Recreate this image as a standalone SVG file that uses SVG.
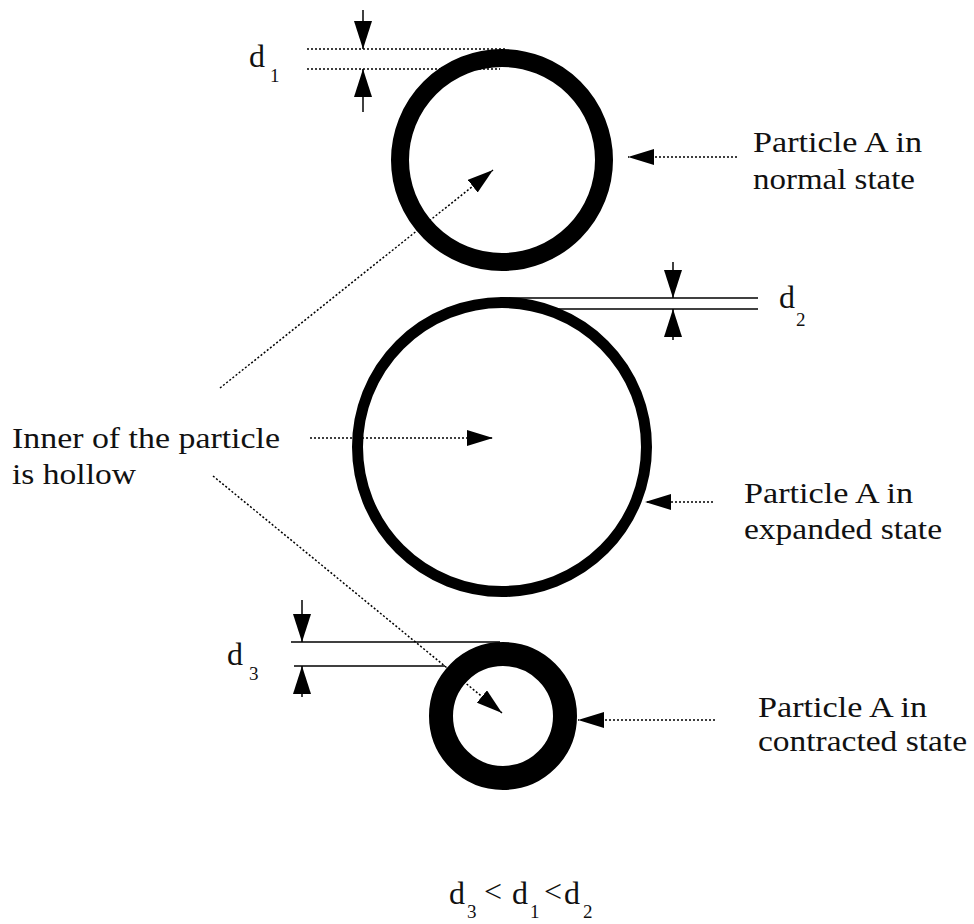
<svg xmlns="http://www.w3.org/2000/svg" width="974" height="924" viewBox="0 0 974 924">
<style>
.lbl{font-family:"Liberation Serif","Times New Roman",serif;font-size:30px;fill:#111}
.d{font-family:"Liberation Serif","Times New Roman",serif;font-size:32px;fill:#111}
.sub{font-family:"Liberation Serif","Times New Roman",serif;font-size:19px;fill:#111}
.dot{stroke:#000;stroke-width:1.5;stroke-dasharray:2 2;fill:none}
.dim{stroke:#000;stroke-width:1.5;fill:none}
.ring{fill:none;stroke:#000}
</style>
<defs>
<marker id="ah" viewBox="0 0 26 16" refX="26" refY="8" markerWidth="26" markerHeight="16" markerUnits="userSpaceOnUse" orient="auto">
<path d="M0,0 L26,8 L0,16 Z" fill="#000"/>
</marker>
<marker id="av" viewBox="0 0 28 18" refX="28" refY="9" markerWidth="28" markerHeight="18" markerUnits="userSpaceOnUse" orient="auto">
<path d="M0,0 L28,9 L0,18 Z" fill="#000"/>
</marker>
</defs>
<g id="connectors">
<line class="dot" x1="220" y1="388" x2="493" y2="170" marker-end="url(#ah)"/>
<line class="dot" x1="310" y1="438" x2="493" y2="438" marker-end="url(#ah)"/>
<line class="dot" x1="213" y1="476" x2="502" y2="713" marker-end="url(#ah)"/>
<line class="dot" x1="737" y1="157" x2="628" y2="157" marker-end="url(#ah)"/>
<line class="dot" x1="713" y1="502" x2="645" y2="502" marker-end="url(#ah)"/>
<line class="dot" x1="715" y1="720" x2="578" y2="720" marker-end="url(#ah)"/>
</g>
<g id="particle-normal">
<circle class="ring" cx="502" cy="160" r="102" stroke-width="18"/>
</g>
<g id="particle-expanded">
<circle class="ring" cx="502" cy="447" r="144.5" stroke-width="11"/>
</g>
<g id="particle-contracted">
<circle class="ring" cx="503" cy="716" r="62" stroke-width="24"/>
</g>
<g id="dim-d1">
<line class="dot" x1="307" y1="49" x2="505" y2="49"/>
<line class="dot" x1="307" y1="69" x2="500" y2="69"/>
<line class="dim" x1="363" y1="10" x2="363" y2="49" marker-end="url(#av)"/>
<line class="dim" x1="363" y1="112" x2="363" y2="69" marker-end="url(#av)"/>
<text class="d" x="249" y="67">d</text>
<text class="sub" x="270" y="82">1</text>
</g>
<g id="dim-d2">
<line class="dim" x1="500" y1="298" x2="758" y2="298"/>
<line class="dim" x1="535" y1="309" x2="758" y2="309"/>
<line class="dim" x1="673" y1="262" x2="673" y2="298" marker-end="url(#av)"/>
<line class="dim" x1="673" y1="340" x2="673" y2="309" marker-end="url(#av)"/>
<text class="d" x="779" y="308">d</text>
<text class="sub" x="796" y="326">2</text>
</g>
<g id="dim-d3">
<line class="dim" x1="291" y1="642" x2="500" y2="642"/>
<line class="dim" x1="294" y1="666" x2="445" y2="666"/>
<line class="dim" x1="302" y1="600" x2="302" y2="642" marker-end="url(#av)"/>
<line class="dim" x1="302" y1="697" x2="302" y2="666" marker-end="url(#av)"/>
<text class="d" x="227" y="665">d</text>
<text class="sub" x="249" y="680">3</text>
</g>
<g id="label-normal">
<text class="lbl" x="753" y="152" textLength="169" lengthAdjust="spacingAndGlyphs">Particle A in</text>
<text class="lbl" x="753" y="189" textLength="162" lengthAdjust="spacingAndGlyphs">normal state</text>
</g>
<g id="label-expanded">
<text class="lbl" x="744" y="503" textLength="169" lengthAdjust="spacingAndGlyphs">Particle A in</text>
<text class="lbl" x="744" y="539" textLength="198" lengthAdjust="spacingAndGlyphs">expanded state</text>
</g>
<g id="label-contracted">
<text class="lbl" x="758" y="717" textLength="169" lengthAdjust="spacingAndGlyphs">Particle A in</text>
<text class="lbl" x="758" y="751" textLength="209" lengthAdjust="spacingAndGlyphs">contracted state</text>
</g>
<g id="label-inner">
<text class="lbl" x="12" y="448" textLength="268" lengthAdjust="spacingAndGlyphs">Inner of the particle</text>
<text class="lbl" x="12" y="484" textLength="124" lengthAdjust="spacingAndGlyphs">is hollow</text>
</g>
<g id="formula">
<text class="d" x="449" y="904" font-size="35">d</text>
<text class="sub" x="467" y="918">3</text>
<text class="d" x="484" y="902" font-size="28">&lt;</text>
<text class="d" x="512" y="904" font-size="35">d</text>
<text class="sub" x="530" y="918">1</text>
<text class="d" x="544" y="902" font-size="28">&lt;</text>
<text class="d" x="564" y="904" font-size="35">d</text>
<text class="sub" x="583" y="918">2</text>
</g>
</svg>
